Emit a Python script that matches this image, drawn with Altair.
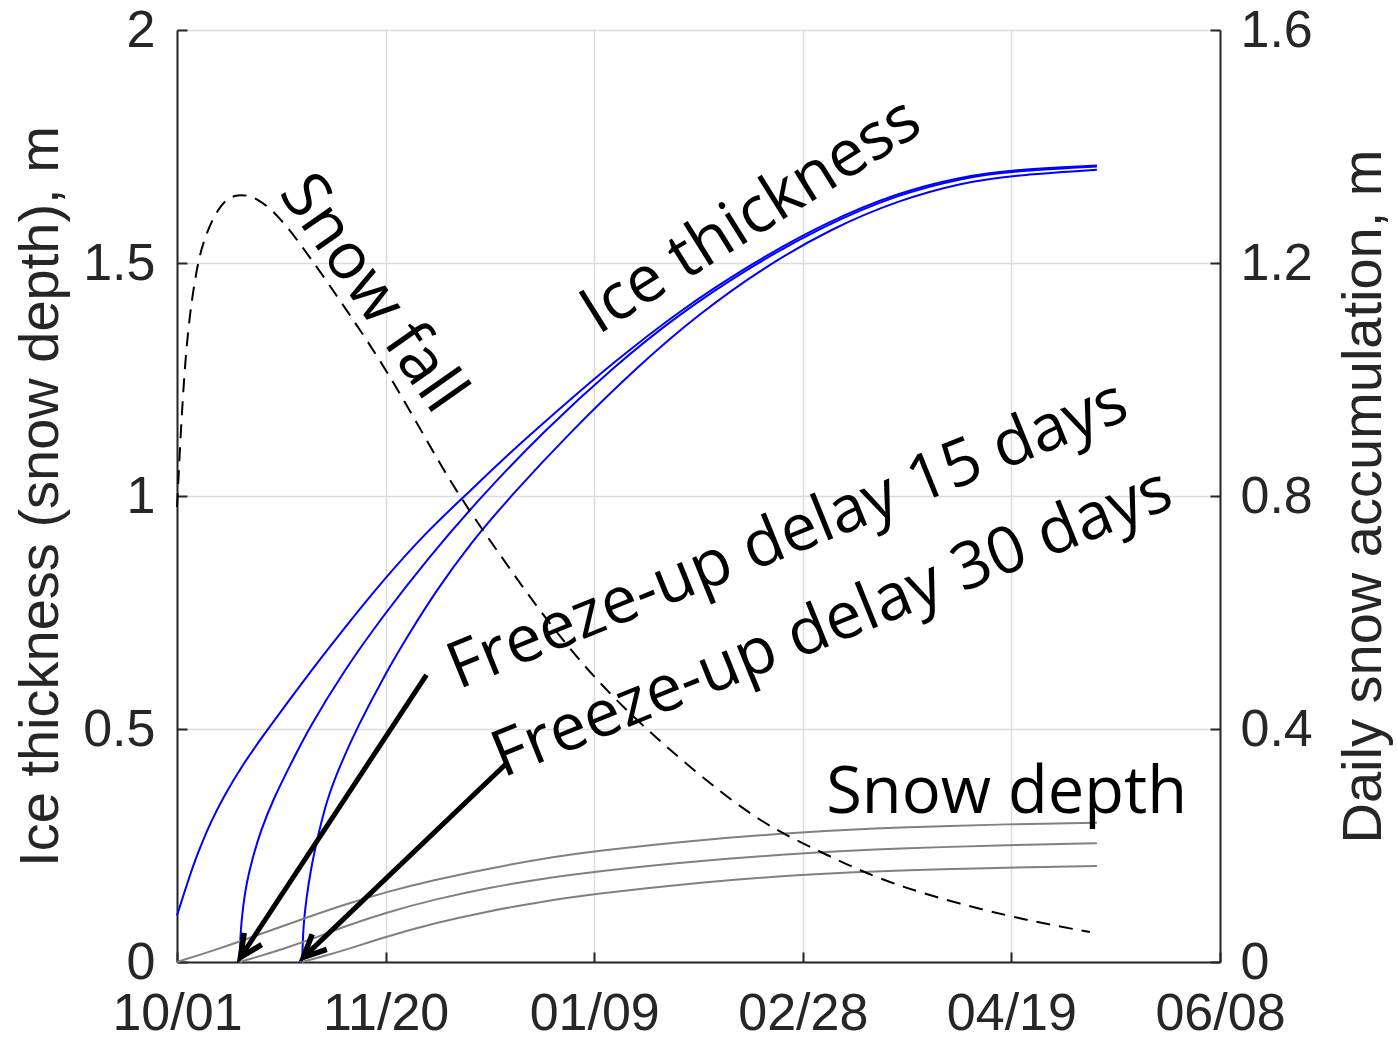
import altair as alt
import pandas as pd

# ---------------- data ----------------
x_tick_days = [0, 50, 100, 150, 200, 250]
x_tick_labels = ["10/01", "11/20", "01/09", "02/28", "04/19", "06/08"]
left_ticks = [0, 0.5, 1, 1.5, 2]
right_ticks = [0, 0.4, 0.8, 1.2, 1.6]

# ice thickness (m), three freeze-up dates
ice1_day = [0, 1, 2, 3, 4.5, 6, 8, 11, 16, 22, 30, 40, 49, 60, 69, 80, 94, 104, 120, 137, 155, 173, 188, 200, 220.5]
ice1_val = [0.10, 0.128, 0.156, 0.183, 0.222, 0.256, 0.298, 0.352, 0.428, 0.502, 0.60, 0.715, 0.815,
            0.925, 1.00, 1.095, 1.205, 1.282, 1.395, 1.495, 1.585, 1.652, 1.685, 1.70, 1.709]

ice2_day = [15, 15.2, 15.5, 16, 16.7, 18, 20, 23, 27, 31.5, 40, 49, 60, 73, 88, 105, 120, 137,
            155, 173, 188, 200, 220.5]
ice2_val = [0, 0.058, 0.09, 0.13, 0.17, 0.22, 0.28, 0.348, 0.42, 0.50, 0.625, 0.738, 0.865, 1.00,
            1.14, 1.28, 1.388, 1.49, 1.58, 1.648, 1.682, 1.697, 1.707]

ice3_day = [30, 30.2, 30.5, 31, 32, 33.5, 35.9, 39, 43, 50, 56, 62, 70, 80, 94, 111, 125, 140.5,
            157, 173, 188, 200, 220.5]
ice3_val = [0, 0.06, 0.095, 0.135, 0.195, 0.26, 0.348, 0.42, 0.50, 0.62, 0.71, 0.795, 0.895, 1.00,
            1.135, 1.283, 1.39, 1.49, 1.575, 1.635, 1.672, 1.688, 1.70]

# snow depth (m)
sd1_day = [0, 10, 20, 30, 40, 50, 62, 75, 87, 100, 125, 150, 173, 200, 220.5]
sd1_val = [0, 0.028, 0.06, 0.092, 0.123, 0.15, 0.177, 0.201, 0.221, 0.238, 0.262, 0.279, 0.289, 0.296, 0.299]

sd2_day = [15, 20, 25, 31.7, 40, 50, 62, 75, 87, 100, 125, 150, 173, 200, 220.5]
sd2_val = [0, 0.013, 0.027, 0.047, 0.076, 0.106, 0.135, 0.16, 0.178, 0.194, 0.217, 0.234, 0.244, 0.251, 0.255]

sd3_day = [30, 35, 40, 50, 62, 74, 87, 100, 125, 150, 173, 200, 220.5]
sd3_val = [0, 0.012, 0.025, 0.054, 0.084, 0.108, 0.129, 0.146, 0.171, 0.188, 0.197, 0.203, 0.206]

# daily snow accumulation (m, right axis)
sf_day = [0, 1.9, 4.3, 6.2, 10.3, 14.4, 19.2, 24.7, 31.9, 40.7, 50.3, 59.9, 67.1,
          78.1, 87.0, 100.1, 116.3, 131.4, 140.0, 146.7, 156.8, 172.3, 200.4, 218.8]
sf_val = [0.781, 1.051, 1.176, 1.239, 1.303, 1.320, 1.313, 1.279, 1.210, 1.119, 1.016, 0.895, 0.805,
          0.692, 0.602, 0.484, 0.374, 0.285, 0.242, 0.215, 0.180, 0.129, 0.0755, 0.0515]

# annotations
text_labels = ["Ice thickness", "Snow fall", "Freeze-up delay 15 days", "Freeze-up delay 30 days", "Snow depth"]
text_day = [100.9, 24.2, 67.4, 78.1, 155.6]
text_val = [1.345, 1.65, 0.584, 0.395, 0.320]
text_angle = [328, 55, 338, 338, 0]

arrow_day0 = [59.8, 79.1]
arrow_val0 = [0.616, 0.427]
arrow_day1 = [15.2, 30.3]
arrow_val1 = [0.010, 0.010]
arrow_angle = [34, 46]

# ---------------- tables ----------------
ice_df = pd.concat([
    pd.DataFrame({"day": d, "value": v, "series": s})
    for d, v, s in [(ice1_day, ice1_val, "a"), (ice2_day, ice2_val, "b"), (ice3_day, ice3_val, "c")]
])
sd_df = pd.concat([
    pd.DataFrame({"day": d, "value": v, "series": s})
    for d, v, s in [(sd1_day, sd1_val, "a"), (sd2_day, sd2_val, "b"), (sd3_day, sd3_val, "c")]
])
sf_df = pd.DataFrame({"day": sf_day, "value": sf_val})
txt_df = pd.DataFrame({"day": text_day, "value": text_val, "label": text_labels, "angle": text_angle})
arr_df = pd.DataFrame({"day": arrow_day0, "value": arrow_val0, "day2": arrow_day1,
                       "value2": arrow_val1, "angle": arrow_angle})
head_df = pd.DataFrame({"day": arrow_day1, "value": arrow_val1, "angle": arrow_angle})

# ---------------- styling ----------------
AX_FONT = "Liberation Sans"
TXT_FONT = "Open Sans"
AXC = "#262626"
GRID = "#dcdcdc"

label_expr = " : ".join(
    f"datum.value == {d} ? '{l}'" for d, l in zip(x_tick_days, x_tick_labels)
) + " : ''"

xscale = alt.Scale(domain=[0, 250], nice=False, zero=False)
yscale = alt.Scale(domain=[0, 2], nice=False)
rscale = alt.Scale(domain=[0, 1.6], nice=False)

xaxis = alt.Axis(orient="bottom", values=x_tick_days, labelExpr=label_expr, labelFont=AX_FONT,
                 labelFontSize=52, labelColor=AXC, labelPadding=26, labelFlush=False,
                 labelOverlap=False, ticks=False, domainColor=AXC, domainWidth=2,
                 grid=True, gridColor=GRID, gridWidth=1.5, title=None)
yaxis = alt.Axis(orient="left", values=left_ticks, format="~g", labelFont=AX_FONT,
                 labelFontSize=52, labelColor=AXC, labelPadding=22, labelFlush=False,
                 ticks=False, domainColor=AXC, domainWidth=2,
                 grid=True, gridColor=GRID, gridWidth=1.5,
                 title="Ice thickness (snow depth), m", titleFont=AX_FONT, titleFontSize=56,
                 titleFontWeight="normal", titleColor=AXC, titleAngle=270, titleX=-120,
                 titleY=466, titleBaseline="alphabetic", titleAlign="center")
raxis = alt.Axis(orient="right", values=right_ticks, format="~g", labelFont=AX_FONT,
                 labelFontSize=52, labelColor=AXC, labelPadding=20, labelFlush=False,
                 ticks=False, domainColor=AXC, domainWidth=2, grid=False,
                 title="Daily snow accumulation, m", titleFont=AX_FONT, titleFontSize=56,
                 titleFontWeight="normal", titleColor=AXC, titleAngle=270, titleX=160,
                 titleY=466, titleBaseline="alphabetic", titleAlign="center")

# inward tick axes
x_in = alt.Axis(orient="bottom", values=x_tick_days, offset=-10, ticks=True, tickSize=10,
                tickWidth=2, tickColor=AXC, labels=False, domain=False, grid=False, title=None)
yl_in = alt.Axis(orient="left", values=left_ticks, offset=-10, ticks=True, tickSize=10,
                 tickWidth=2, tickColor=AXC, labels=False, domain=False, grid=False, title=None)
yr_in = alt.Axis(orient="right", values=right_ticks, offset=-10, ticks=True, tickSize=10,
                 tickWidth=2, tickColor=AXC, labels=False, domain=False, grid=False, title=None)

X = alt.X("day:Q", scale=xscale, axis=xaxis)
Y = alt.Y("value:Q", scale=yscale, axis=yaxis)

ice = alt.Chart(ice_df).mark_line(color="#0000ff", strokeWidth=2, interpolate="basis").encode(
    x=X, y=Y, detail="series:N")
sd = alt.Chart(sd_df).mark_line(color="#808080", strokeWidth=2, interpolate="basis").encode(
    x=X, y=Y, detail="series:N")
arrows = alt.Chart(arr_df).mark_rule(color="black", strokeWidth=5).encode(
    x=X, y=Y, x2=alt.X2("day2:Q"), y2=alt.Y2("value2:Q"))
heads = alt.Chart(head_df).mark_point(
    shape="M -0.47 -1 L 0 0 L 0.47 -1", filled=False, stroke="black", strokeWidth=5.5,
    size=2000, opacity=1).encode(x=X, y=Y, angle=alt.Angle("angle:Q", scale=None))
texts = alt.Chart(txt_df).mark_text(
    font=TXT_FONT, fontSize=65, align="left", baseline="alphabetic", color="black").encode(
    x=X, y=Y, text="label:N", angle=alt.Angle("angle:Q", scale=None))

main = alt.layer(ice, sd, arrows, heads, texts)

snowfall = alt.Chart(sf_df).mark_line(color="black", strokeWidth=2, strokeDash=[14, 9],
                                      interpolate="basis").encode(
    x=alt.X("day:Q", scale=xscale, axis=x_in),
    y=alt.Y("value:Q", scale=rscale, axis=raxis))

left_ticks_layer = alt.Chart(sf_df).mark_line(opacity=0).encode(
    x=alt.X("day:Q", scale=xscale, axis=None),
    y=alt.Y("value:Q", scale=yscale, axis=yl_in))
right_ticks_layer = alt.Chart(sf_df).mark_line(opacity=0).encode(
    x=alt.X("day:Q", scale=xscale, axis=None),
    y=alt.Y("value:Q", scale=rscale, axis=yr_in))

chart = alt.layer(main, snowfall, left_ticks_layer, right_ticks_layer).resolve_scale(
    x="independent", y="independent"
).properties(
    width=1043, height=932,
    padding={"left": 177, "top": 30, "right": 177, "bottom": 79},
    autosize=alt.AutoSizeParams(type="none"),
    background="white",
).configure_view(stroke=None)

chart.save("out.html", embed_options={"renderer": "svg", "actions": False})
